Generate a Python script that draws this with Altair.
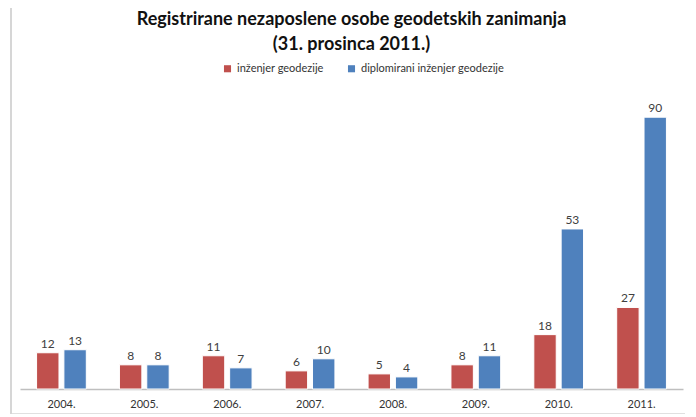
import altair as alt
import pandas as pd

years = ["2004.", "2005.", "2006.", "2007.", "2008.", "2009.", "2010.", "2011."]
series_names = ["inženjer geodezije", "diplomirani inženjer geodezije"]
inzenjer = [12, 8, 11, 6, 5, 8, 18, 27]
diplomirani = [13, 8, 7, 10, 4, 11, 53, 90]
colors = ["#C0504D", "#4F81BD"]

rows = []
for i, y in enumerate(years):
    rows.append({"year": y, "series": series_names[0], "value": inzenjer[i]})
    rows.append({"year": y, "series": series_names[1], "value": diplomirani[i]})
df = pd.DataFrame(rows)

FONT = "Lato"

x = alt.X("year:N", sort=years, title=None,
          scale=alt.Scale(paddingInner=0.4, paddingOuter=0.2),
          axis=alt.Axis(labelAngle=0, ticks=False, domainColor="#BFBFBF", domainWidth=1.5,
                        labelPadding=9, labelFontSize=11, labelColor="#333333", labelFont=FONT))
xoff = alt.XOffset("series:N", sort=series_names, scale=alt.Scale(paddingInner=0.18))
yenc = alt.Y("value:Q", scale=alt.Scale(domain=[0, 100]), axis=None)
color = alt.Color("series:N", sort=series_names,
                  scale=alt.Scale(domain=series_names, range=colors),
                  legend=alt.Legend(title=None, orient="none", direction="horizontal",
                                    legendX=202, legendY=-24, symbolType="square",
                                    symbolSize=50, labelFontSize=11, labelFont=FONT,
                                    labelColor="#333333", columnPadding=22, symbolOffset=0,
                                    symbolStrokeWidth=0))

base = alt.Chart(df)
bars = base.mark_bar(stroke="#FFFFFF", strokeWidth=1).encode(x=x, xOffset=xoff, y=yenc, color=color)
labels = base.mark_text(dy=-9, fontSize=12, font=FONT, color="#404040").encode(
    x=x, xOffset=xoff, y=yenc, text="value:Q")

frame_df = pd.DataFrame({"k": [0]})
left_line = alt.Chart(frame_df).mark_rule(color="#D6D6D6", strokeWidth=2, clip=False).encode(
    x=alt.value(-9), y=alt.value(-79), y2=alt.value(327))
bottom_line = alt.Chart(frame_df).mark_rule(color="#D6D6D6", strokeWidth=1.5, clip=False).encode(
    x=alt.value(-9), x2=alt.value(673), y=alt.value(327))

chart = alt.layer(bars, labels, left_line, bottom_line).properties(
    width=663, height=302,
    title=alt.TitleParams(text=["Registrirane nezaposlene osobe geodetskih zanimanja", "(31. prosinca 2011.)"],
                          font=FONT, fontSize=18, fontWeight="bold", color="#111111",
                          anchor="middle", offset=-47, lineHeight=25),
    padding={"left": 12, "top": 79, "right": 2, "bottom": 25},
    autosize=alt.AutoSizeParams(type="none"),
).configure_view(stroke=None)

chart.save("out.html", embed_options={"renderer": "svg", "actions": False})
